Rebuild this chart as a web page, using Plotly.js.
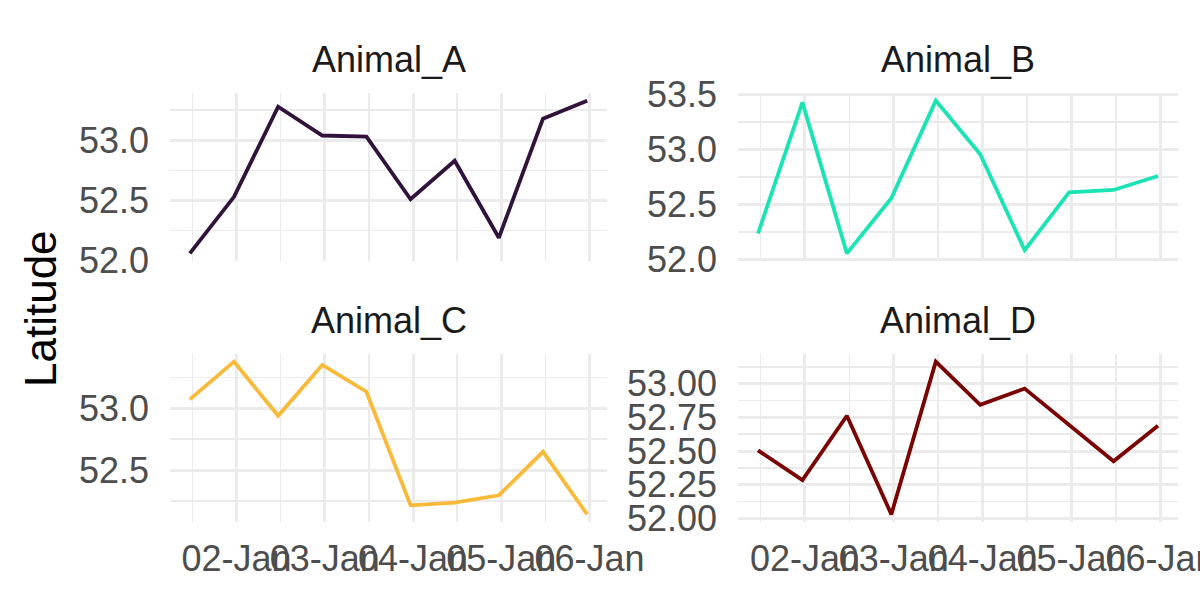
<!DOCTYPE html>
<html>
<head>
<meta charset="utf-8">
<script src="https://cdn.plot.ly/plotly-3.0.1.min.js"></script>
<style>html,body{margin:0;padding:0;background:#fff;}#chart{width:1200px;height:600px;}</style>
</head>
<body>
<div id="chart"></div>
<script>
// ---- data ----
const times = ['2023-01-01 11:20','2023-01-01 23:20','2023-01-02 11:20','2023-01-02 23:20','2023-01-03 11:20',
               '2023-01-03 23:20','2023-01-04 11:20','2023-01-04 23:20','2023-01-05 11:20','2023-01-05 23:20'];
const animals = ['Animal_A','Animal_B','Animal_C','Animal_D'];
const latA = [52.06, 52.53, 53.28, 53.04, 53.03, 52.51, 52.83, 52.19, 53.18, 53.33];
const latB = [52.235, 53.43, 52.054, 52.557, 53.446, 52.958, 52.084, 52.611, 52.632, 52.759];
const latC = [53.073, 53.378, 52.94, 53.351, 53.135, 52.216, 52.238, 52.297, 52.649, 52.143];
const latD = [52.506, 52.284, 52.763, 52.03, 53.165, 52.844, 52.965, 52.696, 52.425, 52.689];
const colors = ['#30123B','#1AE4B6','#FABA39','#7A0403'];
const yMajor = [0.5, 0.5, 0.5, 0.25];
const yFormat = ['.1f','.1f','.1f','.2f'];
// ---- layout helpers ----
const series = [latA, latB, latC, latD];
const W = 1200, H = 600;
const colDom = [[170/W, 607/W],[738/W, 1178/W]];
const rowDom = [[1-261/H, 1-93/H],[1-522/H, 1-354/H]];
const grid = '#EBEBEB';
const FF = 'Liberation Sans, Arial, sans-serif';
const tickFont = {family:FF, size:36, color:'#4D4D4D'};

function expand(lo, hi){ const s = hi - lo; return [lo - 0.05*s, hi + 0.05*s]; }
const tms = times.map(t => new Date(t.replace(' ','T')+'Z').getTime());
const xr = expand(Math.min(...tms), Math.max(...tms));
function iso(ms){ return new Date(ms).toISOString().replace('T',' ').replace('Z',''); }

const traces = [];
const layout = {
  width: W, height: H,
  margin:{l:0,r:0,t:0,b:0},
  paper_bgcolor:'#fff', plot_bgcolor:'#fff',
  showlegend:false,
  font:{family:FF},
  annotations:[]
};
series.forEach((ys, i) => {
  const n = i + 1;
  const sfx = n === 1 ? '' : String(n);
  const col = i % 2, row = Math.floor(i / 2);
  traces.push({
    x: times, y: ys, type:'scatter', mode:'lines',
    line:{color: colors[i], width:3.8},
    xaxis:'x'+sfx, yaxis:'y'+sfx, hoverinfo:'skip', cliponaxis:false
  });
  layout['xaxis'+sfx] = {
    type:'date', domain: colDom[col], anchor:'y'+sfx,
    range:[iso(xr[0]), iso(xr[1])],
    tick0:'2023-01-02', dtick:86400000, tickformat:'%d-%b',
    showticklabels: row === 1, tickangle:0, ticks:'',
    ticklabelstandoff: 12, ticklabeloverflow:'allow',
    tickfont: tickFont,
    showgrid:true, gridcolor:grid, gridwidth:3,
    minor:{tick0:'2023-01-01 12:00', dtick:43200000, showgrid:true, gridcolor:grid, gridwidth:1.6},
    zeroline:false, showline:false, fixedrange:true
  };
  const yr = expand(Math.min(...ys), Math.max(...ys));
  layout['yaxis'+sfx] = {
    domain: rowDom[row], anchor:'x'+sfx, range: yr,
    tick0: 52, dtick: yMajor[i], tickformat: yFormat[i],
    ticks:'', ticklabelstandoff: 20, ticklabeloverflow:'allow', tickfont: tickFont,
    showgrid:true, gridcolor:grid, gridwidth:3,
    minor:{dtick: yMajor[i]/2, showgrid:true, gridcolor:grid, gridwidth:1.6},
    zeroline:false, showline:false, fixedrange:true
  };
  layout.annotations.push({
    text: animals[i], xref:'paper', yref:'paper',
    x: (colDom[col][0]+colDom[col][1])/2, y: rowDom[row][1] + 33/H,
    xanchor:'center', yanchor:'middle', showarrow:false,
    font:{family:FF, size:36, color:'#1A1A1A'}
  });
});
layout.annotations.push({
  text:'Latitude', xref:'paper', yref:'paper', x:40/W, y:1-309/H,
  xanchor:'center', yanchor:'middle', textangle:-90, showarrow:false,
  font:{family:FF, size:44, color:'#000'}
});
Plotly.newPlot('chart', traces, layout, {staticPlot:true, displayModeBar:false});
</script>
</body>
</html>
